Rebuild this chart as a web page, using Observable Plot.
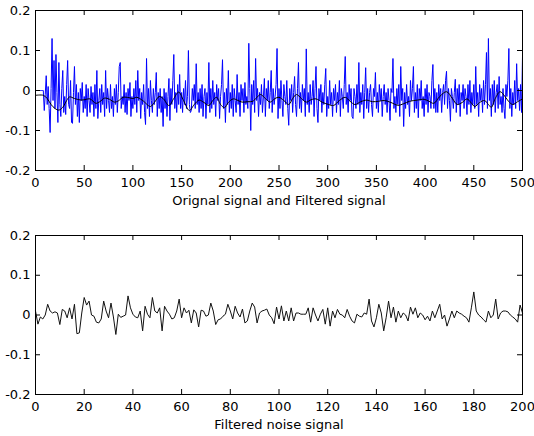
<!DOCTYPE html>
<html><head><meta charset="utf-8">
<script src="https://cdn.jsdelivr.net/npm/d3@7"></script>
<script src="https://cdn.jsdelivr.net/npm/@observablehq/plot@0.6"></script>
<style>
html,body{margin:0;padding:0;background:#fff;}
#chart{width:534px;height:436px;}
#chart svg{display:block;}
</style></head><body><div id="chart"></div>
<script>
// Original (noisy) signal, samples 0..500
const origSignal = [
0,0,0,0,0,0,0,0,0,-.05,
-.01,.037,-.035,.01,-.045,-.105,.005,.13,-.025,.075,
-.045,.09,-.005,-.08,.07,-.035,-.065,.005,.05,-.055,
-.015,-.06,.015,.075,-.035,-.045,.025,-.08,-.082,-.005,
.06,-.035,.015,-.065,-.005,-.08,.005,-.025,.02,-.055,
-.015,-.045,.015,-.065,.005,-.025,-.055,.01,-.035,-.005,
-.065,.015,-.045,.05,-.07,-.025,.005,-.055,.015,-.035,
-.005,-.065,.05,-.045,.005,-.025,-.055,.015,-.045,-.015,
-.065,.005,-.035,.015,-.055,-.005,.06,.07,-.045,-.015,
-.035,.015,-.055,-.005,-.06,.005,-.025,.02,-.065,-.015,
-.045,.005,-.035,.025,-.055,.05,-.025,.005,-.07,-.005,
-.035,.015,-.055,-.085,.08,-.045,.005,-.065,.025,-.025,
-.055,.005,-.035,-.005,.045,-.065,-.005,-.045,.005,-.055,
-.015,-.09,.005,-.045,-.005,-.065,-.015,.03,-.075,.005,
-.035,.025,.09,-.045,-.005,-.055,.015,-.035,.04,-.045,
-.005,-.055,.005,-.035,.025,-.045,-.015,.10,-.035,-.055,
-.05,.005,-.025,.015,-.045,.067,-.035,-.005,-.055,.005,
-.045,.015,-.065,-.015,.005,-.07,-.005,-.035,.07,-.055,
.005,-.045,.025,-.035,-.005,-.065,.015,-.025,.005,-.07,
-.015,.015,.077,-.045,-.005,-.08,.005,-.035,.05,-.055,
-.005,-.045,.015,-.065,.005,-.025,-.055,.04,-.035,-.005,
-.065,.015,-.025,.005,-.055,.02,-.035,-.015,-.045,.118,
.005,-.10,.015,-.035,.025,-.055,.08,-.025,.005,-.065,
-.005,-.035,.015,-.055,-.015,.03,-.065,.005,-.025,.025,
-.045,-.005,.05,-.055,.005,-.035,-.015,.015,.105,-.07,
.005,-.045,.025,-.025,-.065,.015,-.015,-.035,.025,-.045,
-.087,.005,-.025,.015,-.055,-.005,.035,-.035,-.065,.005,
.07,-.045,-.005,-.055,.015,-.025,.005,-.065,.104,-.035,
-.005,-.055,.015,-.035,-.015,.025,-.065,.005,.06,-.045,
-.08,.005,-.025,.015,-.055,-.005,-.035,.015,.055,-.065,
-.015,-.045,.025,-.035,-.005,-.065,.005,-.025,.015,-.055,
-.005,-.035,.025,-.065,.005,-.015,-.045,.015,.085,-.035,
-.005,-.055,.015,-.025,.005,-.065,-.07,.005,-.015,-.045,
.015,-.035,.07,-.055,-.005,-.035,.015,-.07,-.005,.057,
-.045,.005,-.055,-.005,.015,-.035,-.065,.005,-.015,.045,
-.045,-.005,-.055,.015,-.025,.005,-.065,-.015,.015,-.035,
-.005,-.055,.005,-.025,-.075,.005,-.005,.08,-.045,-.015,
-.055,.005,-.035,.015,-.065,.06,-.025,.005,-.09,-.005,
-.045,.015,-.035,-.015,-.065,.025,-.025,.005,.06,-.055,
-.005,-.045,.015,-.068,.005,-.025,.025,-.045,-.015,-.065,
.005,-.035,.015,-.055,-.005,-.015,-.045,.025,.065,-.045,
.005,-.055,-.005,-.055,.015,-.025,.005,-.055,-.005,.015,
-.035,.025,.048,-.045,.005,-.025,-.077,.005,-.015,-.045,
-.005,.028,-.055,.005,-.035,.015,-.065,-.005,-.025,.015,
-.045,.005,-.015,-.06,.015,-.035,.025,-.055,-.005,-.035,
.015,-.045,.06,-.035,-.005,-.065,.015,-.025,.005,-.055,
.025,-.035,.015,.095,-.045,.13,-.025,.005,-.065,.015,
-.035,.025,-.055,-.005,.015,-.045,.035,-.035,-.015,-.055,
.005,-.045,-.07,.015,-.015,.025,.105,-.045,.005,-.065,
-.005,-.035,.025,-.045,.067,-.025,.005,-.05,.015,-.055,
.085
];
// Filtered signal (key samples, drawn smooth)
const filtX = [0,8,12,16,20,24,28,32,35,40,47,52,56,62,66,71,76,81,85,90,96,100,104,110,118,122,127,131,137,142,147,152,158,163,168,173,178,182,186,190,194,198,203,208,212,218,223,227,231,236,241,246,250,255,260,264,268,273,278,283,288,295,301,306,312,318,323,328,334,340,346,352,358,365,372,378,384,392,399,404,409,415,422,428,433,438,443,447,451,456,461,465,468,472,477,482,486,490,495,500];
const filtY = [-.012,-.012,-.02,-.035,-.045,-.049,-.042,-.025,-.016,-.02,-.024,-.022,-.021,-.032,-.028,-.019,-.022,-.029,-.026,-.017,-.018,-.02,-.017,-.025,-.04,-.03,-.015,-.02,-.0375,-.02,-.004,-.025,-.05,-.035,-.024,-.03,-.0375,-.025,-.017,-.035,-.043,-.03,-.021,-.025,-.029,-.028,-.027,-.018,-.01,-.02,-.029,-.02,-.017,-.025,-.035,-.02,-.01,-.02,-.029,-.023,-.021,-.03,-.035,-.0375,-.025,-.017,-.027,-.035,-.028,-.024,-.028,-.027,-.025,-.03,-.037,-.033,-.027,-.024,-.022,-.027,-.032,-.015,-.003,-.02,-.035,-.03,-.021,-.03,-.04,-.03,-.025,-.035,-.042,-.02,-.003,-.015,-.028,-.035,-.028,-.021];
// Filtered noise signal, samples 0..200
const noiseSignal = [
.01,-.023,-.005,-.01,0,.027,.01,.005,.008,.005,
-.024,.014,.01,-.007,.018,-.01,.027,-.047,-.045,.005,
.044,.025,.035,0,-.003,-.018,-.02,-.01,.035,.01,
-.007,.03,-.005,-.049,.002,-.006,-.003,0,.048,.018,
.002,-.005,-.007,.01,-.04,.022,.002,-.007,.044,.01,
.005,.018,-.04,.022,.01,.002,-.01,-.007,.01,.04,
-.007,.018,.005,.012,-.02,.013,.005,-.03,.012,.01,
-.003,0,.03,.01,-.024,-.012,-.01,-.003,.002,.027,
.01,-.01,.022,.005,-.005,.015,-.02,-.015,.01,.03,
.02,-.02,.005,.01,.012,.015,0,-.007,-.022,.02,
-.01,.023,-.015,.01,-.015,.018,-.015,.005,.005,.002,
.002,.002,.018,-.018,.018,0,-.015,.002,.014,-.023,
.018,-.028,.01,-.007,.014,.002,0,-.007,.014,-.003,
-.015,-.02,.002,-.003,-.005,.005,.002,.04,-.015,-.03,
-.007,.027,.005,-.04,-.007,.035,-.007,.02,-.018,.01,
-.007,.005,0,-.015,.02,.002,.018,-.007,.005,0,
-.012,-.003,-.015,.01,-.007,.01,.027,-.01,0,-.028,
-.01,.01,-.007,.01,.005,.002,-.003,-.007,-.018,.018,
.058,.01,0,-.005,-.012,-.018,.01,-.007,0,.04,
-.01,.005,.01,.01,.008,0,-.005,-.01,-.018,.025,
.005
];
const topXTicks = [0,50,100,150,200,250,300,350,400,450,500];
const bottomXTicks = [0,20,40,60,80,100,120,140,160,180,200];
const yTicks = [-0.2,-0.1,0,0.1,0.2];
const topLabel = "Orignal signal and Filtered signal";
const bottomLabel = "Filtered noise signal";

const W = 534, ML = 35, MR = 12;
function panel({height, marginTop, marginBottom, xDomain, xTicks, label, lines}) {
  const innerH = height - marginTop - marginBottom;
  const innerW = W - ML - MR;
  const tl = 5;
  return Plot.plot({
    width: W, height, marginLeft: ML, marginRight: MR, marginTop, marginBottom,
    style: {fontFamily: "DejaVu Sans", fontSize: "13px", color: "black", background: "white"},
    x: {domain: xDomain},
    y: {domain: [-0.2, 0.2]},
    marks: [
      ...lines,
      Plot.frame({stroke: "black", strokeWidth: 1}),
      Plot.tickX(xTicks, {x: d => d, insetTop: innerH - tl, stroke: "black"}),
      Plot.tickX(xTicks, {x: d => d, insetBottom: innerH - tl, stroke: "black"}),
      Plot.tickY(yTicks, {y: d => d, insetLeft: innerW - tl, stroke: "black"}),
      Plot.tickY(yTicks, {y: d => d, insetRight: innerW - tl, stroke: "black"}),
      Plot.axisX({ticks: xTicks, tickSize: 0, tickPadding: 7, tickFormat: d => String(d), label: null}),
      Plot.axisY({ticks: yTicks, tickSize: 0, tickPadding: 5, tickFormat: d => String(d), label: null}),
      Plot.text([label], {text: d => d, frameAnchor: "bottom", dy: 34, fill: "black", fontSize: 13})
    ]
  });
}

const topPanel = panel({
  height: 215, marginTop: 10, marginBottom: 45, xDomain: [0, 500], xTicks: topXTicks, label: topLabel,
  lines: [
    Plot.line(origSignal, {x: (d, i) => i, y: d => d, stroke: "#0000ff", strokeWidth: 1}),
    Plot.line(filtY, {x: filtX, y: filtY, curve: "catmull-rom", stroke: "#000", strokeWidth: 1})
  ]
});
const bottomPanel = panel({
  height: 221, marginTop: 20, marginBottom: 42, xDomain: [0, 200], xTicks: bottomXTicks, label: bottomLabel,
  lines: [
    Plot.line(noiseSignal, {x: (d, i) => i, y: d => d, stroke: "#111", strokeWidth: 1})
  ]
});
document.getElementById("chart").append(topPanel, bottomPanel);
</script>
</body></html>
